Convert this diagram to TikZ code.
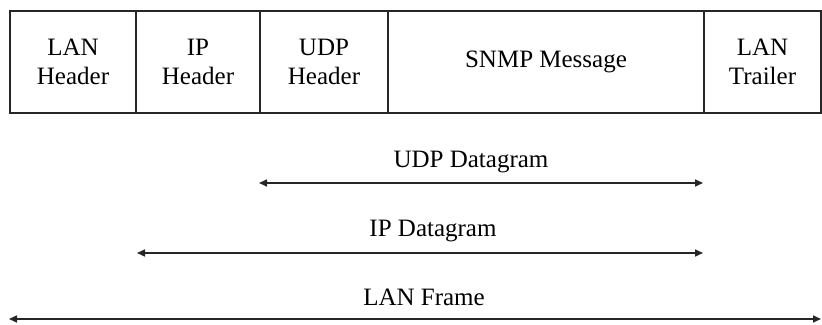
\documentclass[tikz,border=0pt]{standalone}
\usepackage{fontspec}
\setmainfont{Liberation Serif}
\usetikzlibrary{arrows.meta}
\begin{document}
\begin{tikzpicture}[x=1pt,y=1pt,
  cell/.style={draw=black!85,line width=1.6pt,rectangle,minimum height=102pt,
    inner sep=0pt,align=center,font=\fontsize{25}{29}\selectfont},
  lbl/.style={anchor=base,inner sep=0pt,font=\fontsize{25}{29}\selectfont},
  span/.style={draw=black!85,line width=1.6pt,
    {Triangle[length=8pt,width=7pt]}-{Triangle[length=8pt,width=7pt]}}]
\useasboundingbox (0,0) rectangle (822,324);
% the frame layout, one cell per field
\node[cell,minimum width=126pt] (lanh) at (73,262) {LAN\\Header};
\node[cell,minimum width=124pt] (iph)  at (198,262) {IP\\Header};
\node[cell,minimum width=128pt] (udph) at (324,262) {UDP\\Header};
\node[cell,minimum width=316pt] (snmp) at (546,262) {SNMP Message};
\node[cell,minimum width=117pt] (lant) at (762.5,262) {LAN\\Trailer};
% extents of the nested units
\coordinate (udpL) at (259,141); \coordinate (udpR) at (703,141);
\coordinate (ipL)  at (137,71);  \coordinate (ipR)  at (703,71);
\coordinate (lanL) at (9,5);     \coordinate (lanR) at (821,5);
\node[lbl] (udplbl) at (471,156) {UDP Datagram};
\node[lbl] (iplbl)  at (433,87)  {IP Datagram};
\node[lbl] (lanlbl) at (424,19)  {LAN Frame};
\draw[span] (udpL) -- (udpR);
\draw[span] (ipL) -- (ipR);
\draw[span] (lanL) -- (lanR);
\end{tikzpicture}
\end{document}
